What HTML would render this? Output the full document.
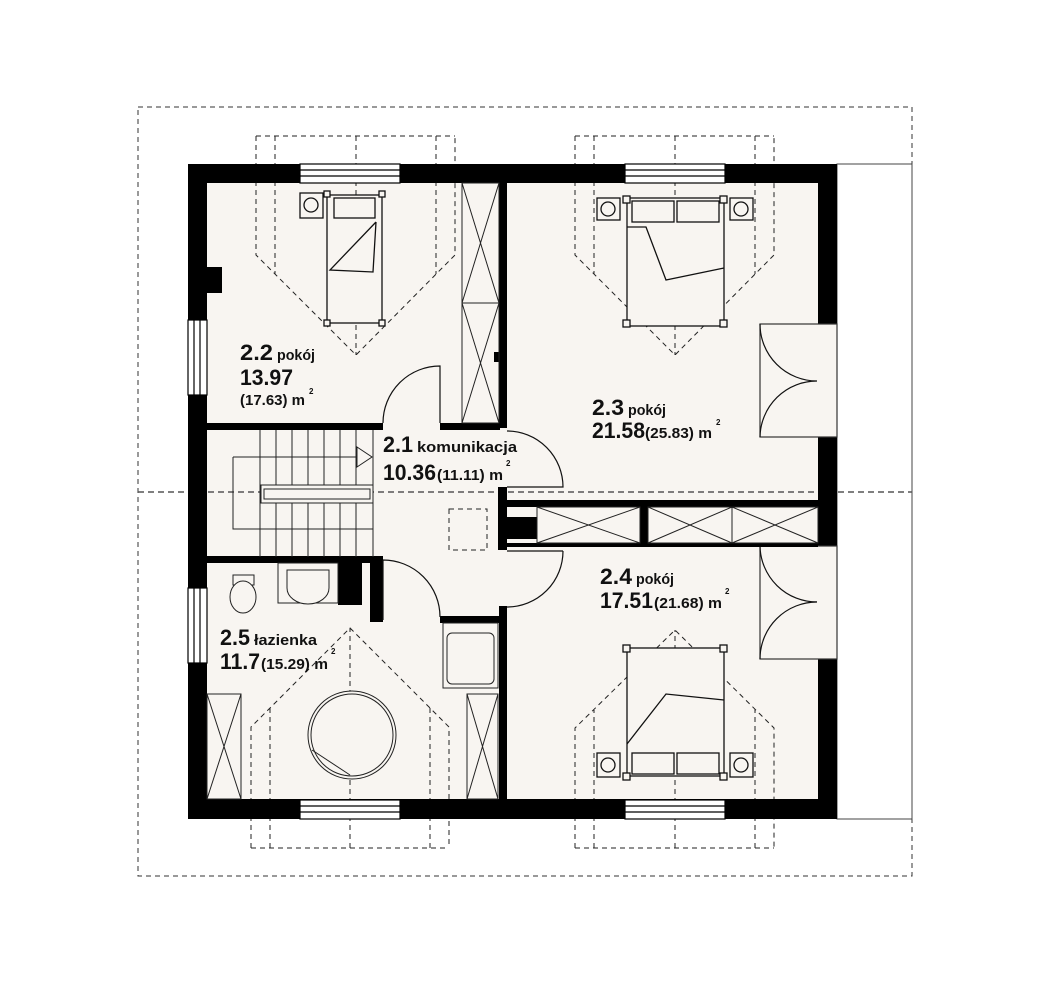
<!DOCTYPE html>
<html><head><meta charset="utf-8"><style>
html,body{margin:0;padding:0;background:#fff;}
svg{display:block;}
text{font-family:"Liberation Sans",sans-serif;font-weight:bold;fill:#111;}
</style></head><body>
<svg width="1051" height="984" viewBox="0 0 1051 984" xmlns="http://www.w3.org/2000/svg">
<rect x="138" y="107" width="774" height="769" fill="none" stroke="#333" stroke-width="1" stroke-dasharray="5,4"/>
<rect x="837" y="164" width="75" height="655" fill="#fff" stroke="#444" stroke-width="1"/>
<rect x="188" y="164" width="649" height="655" fill="#f8f5f1"/>
<line x1="138" y1="492" x2="912" y2="492" stroke="#555" stroke-width="1.5" stroke-dasharray="6,4"/>

<g fill="none" stroke="#222" stroke-width="1" stroke-dasharray="5,4">
 <path d="M256,136 H455 M256,136 V255 L356,355 L455,255 V136 M275,136 V274 M436,136 V274 M356,136 V355"/>
 <path d="M575,136 H774 M575,136 V255 L675,355 L774,255 V136 M594,136 V274 M755,136 V274 M675,136 V355"/>
 <path d="M251,848 H449 M251,848 V727 L350,628 L449,727 V848 M270,848 V708 M430,848 V708 M350,848 V628"/>
 <path d="M575,848 H774 M575,848 V728 L675,630 L774,728 V848 M594,848 V709 M755,848 V709 M675,848 V630"/>
 <rect x="449" y="509" width="38" height="41"/>
</g>

<g fill="#000">
 <rect x="188" y="164" width="649" height="19"/>
 <rect x="188" y="799" width="649" height="20"/>
 <rect x="188" y="164" width="19" height="655"/>
 <rect x="818" y="164" width="19" height="655"/>
 <rect x="207" y="267" width="15" height="26"/>
</g>
<g fill="#fff" stroke="#000" stroke-width="1.2">
 <rect x="300" y="164" width="100" height="19"/>
 <rect x="625" y="164" width="100" height="19"/>
 <rect x="300" y="800" width="100" height="19"/>
 <rect x="625" y="800" width="100" height="19"/>
 <rect x="188" y="320" width="19" height="75"/>
 <rect x="188" y="588" width="19" height="75"/>
</g>
<g stroke="#000" stroke-width="1.2">
 <path d="M300,170H400M300,176H400M625,170H725M625,176H725M300,806H400M300,812H400M625,806H725M625,812H725"/>
 <path d="M194,320V395M200,320V395M194,588V663M200,588V663"/>
</g>

<g fill="#f8f5f1" stroke="#333" stroke-width="1.2">
 <rect x="760" y="324" width="77" height="113"/>
 <rect x="760" y="546" width="77" height="113"/>
</g>
<rect x="818" y="325" width="18" height="111" fill="#f8f5f1"/>
<rect x="818" y="547" width="18" height="111" fill="#f8f5f1"/>
<g fill="none" stroke="#111" stroke-width="1.2">
 <path d="M760,324 A57,57 0 0 0 817,381 M817,381 A57,57 0 0 0 760,437"/>
 <path d="M760,546 A57,57 0 0 0 817,602 M817,602 A57,57 0 0 0 760,659"/>
</g>

<g fill="#000">
 <rect x="499" y="183" width="8" height="245"/>
 <rect x="207" y="423" width="176" height="7"/>
 <rect x="440" y="423" width="60" height="7"/>
 <rect x="498" y="487" width="9" height="63"/>
 <rect x="498" y="517" width="39" height="22"/>
 <rect x="507" y="500" width="311" height="7"/>
 <rect x="640" y="500" width="8" height="46"/>
 <rect x="507" y="543" width="311" height="4"/>
 <rect x="499" y="606" width="8" height="194"/>
 <rect x="207" y="556" width="176" height="7"/>
 <rect x="370" y="556" width="13" height="66"/>
 <rect x="338" y="563" width="24" height="42"/>
 <rect x="440" y="616" width="67" height="7"/>
 <rect x="494" y="352" width="5" height="10"/>
</g>

<g fill="none" stroke="#222" stroke-width="1">
 <rect x="462" y="183" width="37" height="240"/>
 <path d="M462,183L499,303M499,183L462,303M462,303H499M462,303L499,423M499,303L462,423"/>
 <rect x="537" y="507" width="103" height="36"/>
 <path d="M537,507L640,543M640,507L537,543"/>
 <rect x="648" y="507" width="170" height="36"/>
 <path d="M732,507V543M648,507L732,543M732,507L648,543M732,507L818,543M818,507L732,543"/>
 <rect x="207" y="694" width="34" height="105"/>
 <path d="M207,694L241,799M241,694L207,799"/>
 <rect x="467" y="694" width="31" height="105"/>
 <path d="M467,694L498,799M498,694L467,799"/>
</g>

<g fill="none" stroke="#111" stroke-width="1.2">
 <path d="M383,423 A57,57 0 0 1 440,366 V423"/>
 <path d="M507,431 A56,56 0 0 1 563,487 H507"/>
 <path d="M563,551 A56,56 0 0 1 507,607 M507,551 H563"/>
 <path d="M383,560 A57,57 0 0 1 440,617 M383,560 V620"/>
</g>

<g fill="none" stroke="#222" stroke-width="1">
 <path d="M260,430V557M276,430V557M292,430V557M308,430V557M324,430V557M340,430V557M356,430V557M373,430V557"/>
 <path d="M233,457H357M233,457V529H373"/>
 <path d="M357,447L372,457L357,467Z"/>
</g>
<rect x="261" y="485" width="112" height="18" fill="#f8f5f1" stroke="#222" stroke-width="1"/>
<rect x="264" y="489" width="106" height="10" fill="none" stroke="#222" stroke-width="1"/>

<g fill="#f8f5f1" stroke="#222" stroke-width="1">
 <rect x="233" y="575" width="21" height="10"/>
 <ellipse cx="243" cy="597" rx="13" ry="16"/>
 <rect x="278" y="563" width="60" height="40"/>
 <path d="M287,570H329V588A21,16 0 0 1 287,588Z"/>
 <rect x="443" y="623" width="55" height="65"/>
 <rect x="447" y="633" width="47" height="51" rx="5"/>
 <circle cx="352" cy="735" r="44"/>
 <circle cx="352" cy="735" r="41"/>
 <path d="M312,750L350,775"/>
</g>

<g fill="#f8f5f1" stroke="#111" stroke-width="1.3">
 <rect x="327" y="195" width="55" height="128"/>
 <rect x="334" y="198" width="41" height="20"/>
 <path d="M376,222L330,270L373,272L376,222" fill="none"/>
 <rect x="324" y="191" width="6" height="6"/><rect x="379" y="191" width="6" height="6"/>
 <rect x="324" y="320" width="6" height="6"/><rect x="379" y="320" width="6" height="6"/>
 <rect x="300" y="193" width="23" height="25"/><circle cx="311" cy="205" r="7"/>

 <rect x="627" y="198" width="97" height="128"/>
 <rect x="632" y="201" width="42" height="21"/><rect x="677" y="201" width="42" height="21"/>
 <path d="M627,227L646,227L666,280L724,268" fill="none"/>
 <rect x="623" y="196" width="7" height="7"/><rect x="720" y="196" width="7" height="7"/>
 <rect x="623" y="320" width="7" height="7"/><rect x="720" y="320" width="7" height="7"/>
 <rect x="597" y="198" width="23" height="22"/><circle cx="608" cy="209" r="7"/>
 <rect x="730" y="198" width="23" height="22"/><circle cx="741" cy="209" r="7"/>

 <rect x="627" y="648" width="97" height="128"/>
 <rect x="632" y="753" width="42" height="21"/><rect x="677" y="753" width="42" height="21"/>
 <path d="M627,744L666,694L724,700" fill="none"/>
 <rect x="623" y="645" width="7" height="7"/><rect x="720" y="645" width="7" height="7"/>
 <rect x="623" y="773" width="7" height="7"/><rect x="720" y="773" width="7" height="7"/>
 <rect x="597" y="753" width="23" height="24"/><circle cx="608" cy="765" r="7"/>
 <rect x="730" y="753" width="23" height="24"/><circle cx="741" cy="765" r="7"/>
</g>

<g>
 <text x="240" y="360" font-size="22" textLength="33" lengthAdjust="spacingAndGlyphs">2.2</text>
 <text x="277" y="360" font-size="15" textLength="38" lengthAdjust="spacingAndGlyphs">pokój</text>
 <text x="240" y="385" font-size="22" textLength="53" lengthAdjust="spacingAndGlyphs">13.97</text>
 <text x="240" y="405" font-size="15" textLength="65" lengthAdjust="spacingAndGlyphs">(17.63) m</text>
 <text x="309" y="394" font-size="8">2</text>

 <text x="383" y="452" font-size="22" textLength="30" lengthAdjust="spacingAndGlyphs">2.1</text>
 <text x="417" y="452" font-size="15" textLength="100" lengthAdjust="spacingAndGlyphs">komunikacja</text>
 <text x="383" y="480" font-size="22" textLength="53" lengthAdjust="spacingAndGlyphs">10.36</text>
 <text x="437" y="480" font-size="15" textLength="66" lengthAdjust="spacingAndGlyphs">(11.11) m</text>
 <text x="506" y="466" font-size="8">2</text>

 <text x="592" y="415" font-size="22" textLength="32" lengthAdjust="spacingAndGlyphs">2.3</text>
 <text x="628" y="415" font-size="15" textLength="38" lengthAdjust="spacingAndGlyphs">pokój</text>
 <text x="592" y="438" font-size="22" textLength="53" lengthAdjust="spacingAndGlyphs">21.58</text>
 <text x="645" y="438" font-size="15" textLength="67" lengthAdjust="spacingAndGlyphs">(25.83) m</text>
 <text x="716" y="425" font-size="8">2</text>

 <text x="600" y="584" font-size="22" textLength="32" lengthAdjust="spacingAndGlyphs">2.4</text>
 <text x="636" y="584" font-size="15" textLength="38" lengthAdjust="spacingAndGlyphs">pokój</text>
 <text x="600" y="608" font-size="22" textLength="53" lengthAdjust="spacingAndGlyphs">17.51</text>
 <text x="654" y="608" font-size="15" textLength="68" lengthAdjust="spacingAndGlyphs">(21.68) m</text>
 <text x="725" y="594" font-size="8">2</text>

 <text x="220" y="645" font-size="22" textLength="30" lengthAdjust="spacingAndGlyphs">2.5</text>
 <text x="254" y="645" font-size="15" textLength="63" lengthAdjust="spacingAndGlyphs">łazienka</text>
 <text x="220" y="669" font-size="22" textLength="40" lengthAdjust="spacingAndGlyphs">11.7</text>
 <text x="261" y="669" font-size="15" textLength="67" lengthAdjust="spacingAndGlyphs">(15.29) m</text>
 <text x="331" y="654" font-size="8">2</text>
</g>
</svg>
</body></html>
